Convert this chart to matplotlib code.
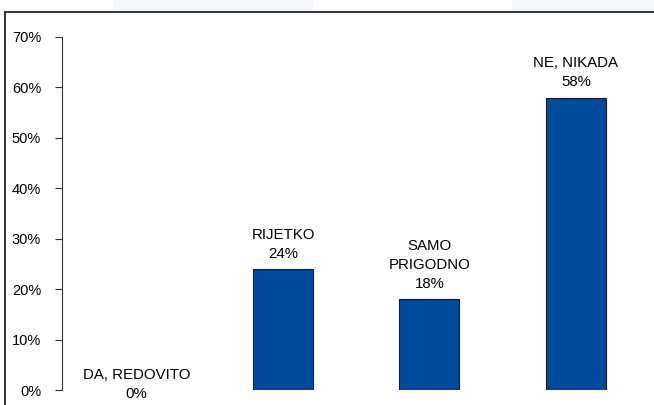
import matplotlib
matplotlib.use("Agg")
import matplotlib.pyplot as plt
from matplotlib.patches import Rectangle
from matplotlib.lines import Line2D

plt.rcParams['font.family'] = ['Liberation Sans', 'DejaVu Sans']

categories = ["DA, REDOVITO", "RIJETKO", "SAMO\nPRIGODNO", "NE, NIKADA"]
values = [0, 24, 18, 58]
yticks = [0, 10, 20, 30, 40, 50, 60, 70]
ytick_labels = [f"{t}%" for t in yticks]

W, H = 654, 405
fig = plt.figure(figsize=(W / 100, H / 100), dpi=100)
fig.patch.set_facecolor("white")

# faint strips along the top edge
for x0, x1 in [(113, 313), (512, 654)]:
    fig.patches.append(Rectangle((x0 / W, 1 - 11 / H), (x1 - x0) / W, 11 / H,
                                 transform=fig.transFigure, facecolor="#f3f6fa",
                                 edgecolor="none", zorder=0))

# frame lines (top and left)
fig.lines.append(Line2D([5 / W, 1.0], [1 - 12 / H, 1 - 12 / H], transform=fig.transFigure,
                        color="#333333", linewidth=1.4))
fig.lines.append(Line2D([5 / W, 5 / W], [0, 1 - 12 / H], transform=fig.transFigure,
                        color="#333333", linewidth=1.4))

ax_left, ax_right = 62, 649
ax_top, ax_bottom = 37, 390
ax = fig.add_axes([ax_left / W, 1 - ax_bottom / H, (ax_right - ax_left) / W, (ax_bottom - ax_top) / H])

x = range(len(categories))
edge_widths = [0.8 if v > 0 else 0 for v in values]
ax.bar(x, values, width=0.41, color="#004b9e", edgecolor="#1a1a1a",
       linewidth=edge_widths, zorder=2)

ax.set_xlim(-0.51, 3.5)
ax.set_ylim(0, 70)
ax.set_yticks(yticks)
ax.set_yticklabels(ytick_labels, fontsize=10.5)
ax.tick_params(axis="y", direction="out", length=5, width=0.8, color="#333333", pad=10)
ax.set_xticks([])
for side in ["top", "right", "bottom"]:
    ax.spines[side].set_visible(False)
ax.spines["left"].set_color("#333333")
ax.spines["left"].set_linewidth(0.8)

for xi, (cat, v) in enumerate(zip(categories, values)):
    offset = 6 if v > 0 else -8
    ax.annotate(f"{cat}\n{v}%", xy=(xi, v), xytext=(0, offset), textcoords="offset points",
                ha="center", va="bottom", fontsize=10.8, linespacing=1.45,
                multialignment="center", clip_on=False)

fig.savefig("out.png", dpi=100)
